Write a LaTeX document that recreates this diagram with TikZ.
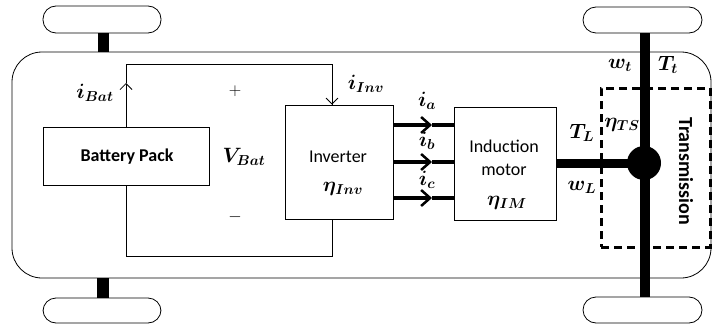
\documentclass[tikz,border=0pt]{standalone}
\usepackage{amsmath}
\usepackage{bm}
\usepackage{fontspec}
\setmainfont{Carlito}
\usetikzlibrary{arrows.meta}
\begin{document}
\begin{tikzpicture}[x=1pt,y=-1pt,
  thin/.style={line width=0.8pt},
  blk/.style={draw, thin, minimum width=#1, inner sep=0pt},
  txt/.style={font=\fontsize{18}{20}\selectfont, inner sep=0pt},
  mlab/.style={font=\fontsize{20.5}{23}\selectfont, inner sep=0pt},
  wheel/.style={draw, thin, rounded corners=13pt},
  phase/.style={line width=4.5pt},
  barb/.style={-{Straight Barb[length=6pt,width=12pt]}},
  pbarb/.style={-{Straight Barb[length=9pt,width=16pt,line width=2.5pt]}}
]
\useasboundingbox (0,0) rectangle (712,329);
% car body
\draw[thin, rounded corners=30pt] (12,52) rectangle (711,278);
% wheels
\draw[wheel] (43,6) rectangle (161,33);
\draw[wheel] (43,298) rectangle (161,323);
\draw[wheel] (583,7) rectangle (702,33);
\draw[wheel] (583,297) rectangle (702,323);
% left axle stubs
\fill (98,33) rectangle (109,52);
\fill (97,278) rectangle (109,298);
% right axle
\fill (640,33) rectangle (650,297);
% transmission dashed box
\node[draw, line width=3pt, dash pattern=on 8pt off 5pt, minimum width=109pt, minimum height=159pt, inner sep=0pt] (trans) at (655.5,167.5) {};
\node[font=\fontsize{20}{22}\selectfont\bfseries, rotate=-90, inner sep=0pt] (transtxt) at (686,171) {Transmission};
% blocks
\node[blk=166pt, minimum height=58pt] (bat) at (126,156) {};
\node[txt, font=\fontsize{18}{20}\selectfont\bfseries] (battxt) at (127,157) {Battery Pack};
\node[blk=108pt, minimum height=114pt] (inv) at (339,162) {};
\node[txt] (invtxt) at (338,157) {Inverter};
\node[mlab] (etainv) at (343,189) {$\bm{\eta_{Inv}}$};
\node[blk=102pt, minimum height=113pt] (mot) at (505,163.5) {};
\node[txt] (mottxt1) at (504,146) {Induction};
\node[txt] (mottxt2) at (504,170) {motor};
\node[mlab] (etaim) at (507,203) {$\bm{\eta_{IM}}$};
% hub
\node[circle, fill, minimum size=34pt, inner sep=0pt] (hub) at (644,163) {};
\draw[line width=9pt] (mot.east |- hub) -- (hub.center);
% DC wires
\coordinate (ibtip) at (126,83);
\coordinate (tl) at (126,64);
\coordinate (tr) at (332,64);
\coordinate (bl) at (126,256);
\coordinate (br) at (332,256);
\draw[thin, barb] (bat.north -| ibtip) -- (ibtip);
\draw[thin] (ibtip) -- (tl) -- (tr) -- (tr |- inv.north);
\draw[thin, barb] (332,90) -- (tr |- inv.north);
\draw[thin] (bat.south) -- (bl) -- (br) -- (br |- inv.south);
% three-phase lines
\foreach \y/\n in {125/a,162/b,198/c}{
  \coordinate (tip\n) at (432,\y);
  \draw[phase, pbarb] (inv.east |- tip\n) -- (tip\n);
  \draw[phase] (tip\n) -- (mot.west |- tip\n);
}
% labels
\node[mlab] (libat) at (95,93) {$\bm{i_{Bat}}$};
\node[font=\fontsize{16}{18}\selectfont, inner sep=0pt] (plus) at (235,91) {$+$};
\node[font=\fontsize{16}{18}\selectfont, inner sep=0pt] (minus) at (235,217) {$-$};
\node[mlab, font=\fontsize{21}{24}\selectfont] (vbat) at (244,157) {$\bm{V_{Bat}}$};
\node[mlab] (liinv) at (366,84) {$\bm{i_{Inv}}$};
\node[mlab] (lia) at (427,101) {$\bm{i_a}$};
\node[mlab] (lib) at (427,141) {$\bm{i_b}$};
\node[mlab] (lic) at (427,180) {$\bm{i_c}$};
\node[mlab] (ltl) at (582,133) {$\bm{T_L}$};
\node[mlab] (lwl) at (582,187) {$\bm{w_L}$};
\node[mlab] (lwt) at (620,65) {$\bm{w_t}$};
\node[mlab] (ltt) at (668,65) {$\bm{T_t}$};
\node[mlab] (lets) at (622,125) {$\bm{\eta_{TS}}$};
\end{tikzpicture}
\end{document}
